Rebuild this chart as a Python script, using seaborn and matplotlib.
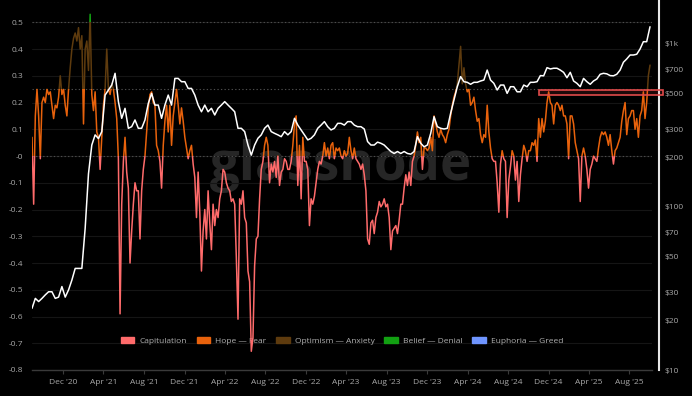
import numpy as np
import pandas as pd
import seaborn as sns
import matplotlib.pyplot as plt
import matplotlib.dates as mdates
import matplotlib.transforms as mtransforms
from matplotlib.patches import Rectangle, Patch

# values: NUPL every 5 days, price every 10 days, from 2020-08-29
start = "2020-08-29"

nupl = [
    0.07, -0.18, 0.15, 0.25, 0.15, -0.01, 0.20, 0.22, 0.20, 0.25,
    0.23, 0.24, 0.19, 0.14, 0.19, 0.18, 0.22, 0.30, 0.23, 0.25,
    0.19, 0.15, 0.25, 0.33, 0.40, 0.44, 0.46, 0.43, 0.48, 0.40,
    0.45, 0.12, 0.40, 0.43, 0.32, 0.53, 0.23, 0.17, 0.24, 0.09,
    0.07, -0.05, 0.07, 0.19, 0.25, 0.40, 0.25, 0.23, 0.27, 0.25,
    0.20, 0.14, -0.01, -0.59, -0.18, -0.02, 0.07, -0.06, -0.12, -0.40,
    -0.28, -0.18, -0.10, -0.13, -0.13, -0.31, -0.13, -0.05, 0.00, 0.09,
    0.18, 0.23, 0.24, 0.20, 0.19, 0.04,
    0.02, -0.02, -0.12, 0.04, 0.13, 0.19, 0.09, 0.19, 0.04, 0.15,
    0.20, 0.25, 0.19, 0.12, 0.18, 0.13, 0.07, 0.03, -0.01, 0.02,
    0.04, -0.03, -0.08, -0.23, -0.06, -0.21, -0.43, -0.28, -0.20, -0.31,
    -0.13, -0.25, -0.35, -0.18, -0.26, -0.20, -0.23, -0.16, -0.13, -0.05,
    -0.06, -0.10, -0.12, -0.13, -0.17, -0.16, -0.18, -0.38, -0.61, -0.16,
    -0.18, -0.13, -0.23, -0.25, -0.43, -0.47, -0.73, -0.68, -0.41, -0.31,
    -0.30, -0.16, -0.05, -0.02, 0.04, 0.07, 0.04, -0.10, -0.03, -0.06,
    -0.02, -0.08, 0.00, -0.11, -0.06,
    -0.05, -0.01, -0.02, -0.05, -0.05, -0.02, 0.04, 0.12, 0.15, -0.11,
    0.04, -0.16, 0.07, -0.02, -0.02, -0.05, -0.26, -0.16, -0.18, -0.15,
    -0.10, -0.05, -0.02, -0.03, 0.00, 0.05, 0.00, 0.03, -0.01, 0.04,
    0.05, -0.01, 0.03, 0.02, 0.03, 0.00, -0.01, 0.02, 0.00, 0.01,
    0.07, 0.02, -0.01, 0.03, -0.01, -0.02, -0.03, -0.05, -0.03, -0.07,
    -0.13, -0.31, -0.33, -0.25, -0.24, -0.29, -0.23, -0.21, -0.17, -0.19,
    -0.18, -0.16, -0.19, -0.18, -0.23, -0.35, -0.28, -0.27, -0.26, -0.29,
    -0.24, -0.18, -0.18, -0.12,
    -0.07, -0.11, -0.06, -0.11, -0.02, 0.00, 0.04, 0.09, 0.05, 0.07,
    -0.05, 0.03, 0.03, 0.02, 0.03, 0.07, 0.02, 0.15, 0.12, 0.09,
    0.07, 0.10, 0.08, 0.07, 0.05, 0.08, 0.10, 0.15, 0.19, 0.22,
    0.24, 0.27, 0.34, 0.41, 0.27, 0.33, 0.27, 0.24, 0.25, 0.19,
    0.20, 0.22, 0.17, 0.13, 0.14, 0.08, 0.05, 0.08, 0.07, 0.19,
    0.09, 0.03, -0.01, -0.02, -0.02, -0.10, -0.21, -0.03, 0.02, -0.01,
    -0.02, -0.23, -0.09, -0.04, 0.02, 0.00, -0.09, -0.02, -0.17, -0.07,
    -0.01, 0.04, 0.02, -0.02,
    0.02, 0.02, 0.05, 0.04, 0.06, -0.02, 0.14, 0.07, 0.14, 0.09,
    0.13, 0.20, 0.24, 0.20, 0.19, 0.12, 0.19, 0.20, 0.19, 0.17,
    0.19, 0.15, 0.15, 0.12, -0.01, 0.15, 0.15, 0.12, 0.05, 0.02,
    -0.01, -0.17, 0.00, 0.03, 0.00, -0.05, -0.12, -0.05, -0.03, 0.00,
    -0.01, -0.02, 0.03, 0.07, 0.09, 0.08, 0.09, 0.07, 0.04, 0.08,
    0.02, -0.03, 0.02, 0.03, 0.05, 0.07, 0.13, 0.17, 0.20, 0.08,
    0.14, 0.15, 0.17, 0.17, 0.10, 0.14, 0.07, 0.15, 0.17, 0.24,
    0.14, 0.20, 0.30, 0.34,
]

price = [
    23.9, 27.5, 26.3, 27.5, 28.9, 30.2, 30.2, 27.5, 28, 32.5,
    28, 31, 35.6, 42, 42, 42, 74, 160, 240, 277,
    263, 290, 486, 522, 560, 661, 443, 350, 403, 304,
    311, 342, 304, 304, 342, 432, 498, 422,
    422, 350, 422, 486, 422, 615, 615, 587, 587, 534,
    534, 486, 422, 384, 422, 384, 403, 367, 403, 422,
    443, 422, 403, 384, 304, 304, 290, 240, 208, 240,
    264, 277, 304, 318, 290, 283, 277, 270,
    290, 277, 290, 350, 318, 297, 277, 258, 264, 277,
    304, 318, 334, 311, 297, 304, 326, 326, 318, 334,
    334, 318, 311, 311, 301, 252, 240, 240, 250, 246,
    240, 229, 219, 213, 219, 213, 219,
    213, 211, 219, 270, 246, 234, 240, 283, 358, 311,
    304, 301, 304, 376, 453, 547, 631, 587, 582, 566,
    582, 582, 593, 601, 692, 601, 574, 522, 560, 560,
    498, 547, 547, 509, 509, 560, 547,
    582, 582, 587, 640, 638, 716, 703, 710, 710, 692,
    670, 621, 670, 593, 574, 547, 615, 587, 566, 593,
    610, 652, 661, 656, 640, 638, 652, 692, 773, 810,
    856, 856, 865, 931, 1033, 1033, 1276,
]

zone_names = ["Capitulation", "Hope — Fear", "Optimism — Anxiety", "Belief — Denial", "Euphoria — Greed"]
zone_bounds = [-1.0, 0.0, 0.25, 0.5, 0.75, 1.0]
zone_colors = ["#ff6b6b", "#e8620c", "#5e3b0e", "#12a012", "#6f95ff"]

price_ticks = [10, 20, 30, 50, 70, 100, 200, 300, 500, 700, 1000]
price_labels = ["$10", "$20", "$30", "$50", "$70", "$100", "$200", "$300", "$500", "$700", "$1k"]

nupl_dates = pd.date_range(start, periods=len(nupl), freq="5D")
price_dates = pd.date_range(start, periods=len(price), freq="10D")

sns.set_theme(style="dark", rc={
    "figure.facecolor": "black",
    "axes.facecolor": "black",
    "text.color": "#a8a8a8",
    "xtick.color": "#a8a8a8",
    "ytick.color": "#a8a8a8",
})
plt.rcParams["font.family"] = ["Open Sans", "DejaVu Sans"]

W, H = 692, 396
fig = plt.figure(figsize=(W / 100, H / 100), dpi=100)
ax = fig.add_axes([32 / W, 26 / H, 620 / W, 370 / H])

# NUPL line, coloured by zone (each copy clipped to its band)
blend = mtransforms.blended_transform_factory(ax.transAxes, ax.transData)
for lo, hi, c in zip(zone_bounds[:-1], zone_bounds[1:], zone_colors):
    sns.lineplot(x=nupl_dates, y=nupl, ax=ax, color=c, linewidth=1.1, legend=False, zorder=3)
    ax.lines[-1].set_clip_path(Rectangle((0, lo), 1, hi - lo, transform=blend))

for v in [0.5, 0.25, 0.0]:
    ax.axhline(v, color="#4d4d4d", lw=0.8, ls=(0, (1.2, 2)), zorder=1)

ax.set_ylim(-0.8, 0.5 + 22.3 / 267.5)
yt = np.round(np.arange(-0.8, 0.51, 0.1), 1)
ax.set_yticks(yt)
ax.set_yticklabels([f"{v:g}" for v in yt])
ax.grid(axis="y", color="#151515", lw=0.8)
ax.grid(axis="x", visible=False)
ax.set_xlim(nupl_dates[0], nupl_dates[-1] + pd.Timedelta(days=6))
ax.xaxis.set_major_locator(mdates.MonthLocator(bymonth=[4, 8, 12]))
ax.xaxis.set_major_formatter(mdates.DateFormatter("%b '%y"))
ax.tick_params(axis="y", length=0, labelsize=6, pad=6.5)
ax.tick_params(axis="x", length=3, width=0.8, color="#3a3a3a", labelsize=6, pad=3.5, bottom=True)
ax.set_xlabel("")
ax.set_ylabel("")
for s in ax.spines.values():
    s.set_visible(False)
ax.spines["bottom"].set_visible(True)
ax.spines["bottom"].set_color("#3a3a3a")
ax.spines["bottom"].set_linewidth(1)

ax.text(0.498, 0.55, "glassnode", transform=ax.transAxes, ha="center", va="center",
        fontsize=38, fontweight="bold", color="#262626", zorder=0.5)

leg = ax.legend(handles=[Patch(color=c, label=n) for n, c in zip(zone_names, zone_colors)],
                loc="center", bbox_to_anchor=(0.5, 0.078), ncol=5, frameon=False,
                fontsize=6, handlelength=1.6, handleheight=0.6, handletextpad=0.6,
                columnspacing=1.2, labelcolor="#b0b0b0")
leg.set_zorder(2)

# price on log scale
ax2 = ax.twinx()
ax2.patch.set_visible(False)
sns.lineplot(x=price_dates, y=price, ax=ax2, color="white", linewidth=1.1, legend=False, zorder=4)
ax2.set_yscale("log")
ax2.set_ylim(10, 10 ** (1 + 370 / 163))
ax2.set_yticks(price_ticks)
ax2.set_yticklabels(price_labels)
ax2.yaxis.set_minor_locator(plt.NullLocator())
ax2.tick_params(axis="y", length=0, labelsize=6, pad=4)
ax2.grid(False)
ax2.set_ylabel("")
for s in ax2.spines.values():
    s.set_visible(False)
ax2.spines["right"].set_visible(True)
ax2.spines["right"].set_color("#e8e8e8")
ax2.spines["right"].set_linewidth(1.5)
ax2.spines["right"].set_position(("outward", 5))

# highlight box
ax2.add_patch(Rectangle((0.8177, 0.742), 0.2, 0.0145, transform=ax2.transAxes, clip_on=False,
                        facecolor=(1, 0.3, 0.3, 0.12), edgecolor="#e04a4a", lw=1.2, zorder=5))
ax.set_xlim(nupl_dates[0], nupl_dates[-1] + pd.Timedelta(days=6))

fig.savefig("out.png", dpi=100, facecolor="black")
